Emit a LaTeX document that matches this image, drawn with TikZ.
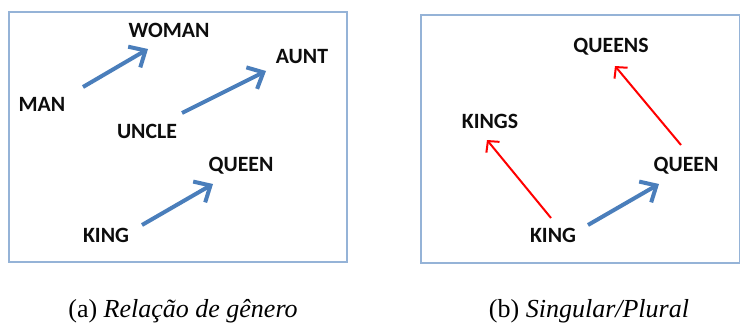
\documentclass[tikz,border=0pt]{standalone}
\usepackage{fontspec}
\setmainfont{Liberation Serif}
\newfontfamily\lblfont{Carlito}
\usetikzlibrary{arrows.meta}
\definecolor{boxblue}{HTML}{95B3D7}
\definecolor{arrblue}{HTML}{4A7EBB}
\tikzset{
  frame/.style={draw=boxblue, line width=1.3pt},
  word/.style={font=\lblfont\bfseries\fontsize{21.8}{22}\selectfont, text=black!95, inner sep=0pt, anchor=center},
  bluearr/.style={draw=arrblue, line width=4pt, -{Straight Barb[length=13pt,width=24pt]}},
  redarr/.style={draw=red, line width=2pt, -{Straight Barb[length=8pt,width=17pt]}},
  captxt/.style={font=\fontsize{26}{26}\selectfont, inner sep=0pt, anchor=base}
}
\begin{document}
\begin{tikzpicture}[x=1pt,y=-1pt]
\useasboundingbox (0,0) rectangle (741,324);
\fill[white] (0,0) rectangle (741,324);
% frames
\draw[frame] (9,12) rectangle (347,262);
\draw[frame] (421,15) rectangle (739.5,263);
% left words
\node[word] (woman) at (169,30) {WOMAN};
\node[word] (aunt) at (302,57) {AUNT};
\node[word] (man) at (42,104) {MAN};
\node[word] (uncle) at (147,131) {UNCLE};
\node[word] (queenA) at (241,166) {QUEEN};
\node[word] (kingA) at (106,235) {KING};
% left arrows
\coordinate (manS) at (83,87);   \coordinate (womanE) at (148,49);
\coordinate (uncleS) at (182,113); \coordinate (auntE) at (266,71);
\coordinate (kingAS) at (142,225); \coordinate (queenAE) at (213,184);
\draw[bluearr] (manS) -- (womanE);
\draw[bluearr] (uncleS) -- (auntE);
\draw[bluearr] (kingAS) -- (queenAE);
% right words
\node[word] (queens) at (611,47) {QUEENS};
\node[word] (kings) at (490,121) {KINGS};
\node[word] (queenB) at (686,166) {QUEEN};
\node[word] (kingB) at (553,235) {KING};
% right arrows
\coordinate (kingBS1) at (551,218); \coordinate (kingsE) at (487,140);
\coordinate (queenBS) at (681,145); \coordinate (queensE) at (615,66);
\coordinate (kingBS2) at (588,225); \coordinate (queenBE) at (659,184);
\draw[redarr] (kingBS1) -- (kingsE);
\draw[redarr] (queenBS) -- (queensE);
\draw[bluearr] (kingBS2) -- (queenBE);
% captions
\node[captxt] (capa) at (183,317) {(a) \textit{Relação de gênero}};
\node[captxt] (capb) at (589,317) {(b) \textit{Singular/Plural}};
\end{tikzpicture}
\end{document}
